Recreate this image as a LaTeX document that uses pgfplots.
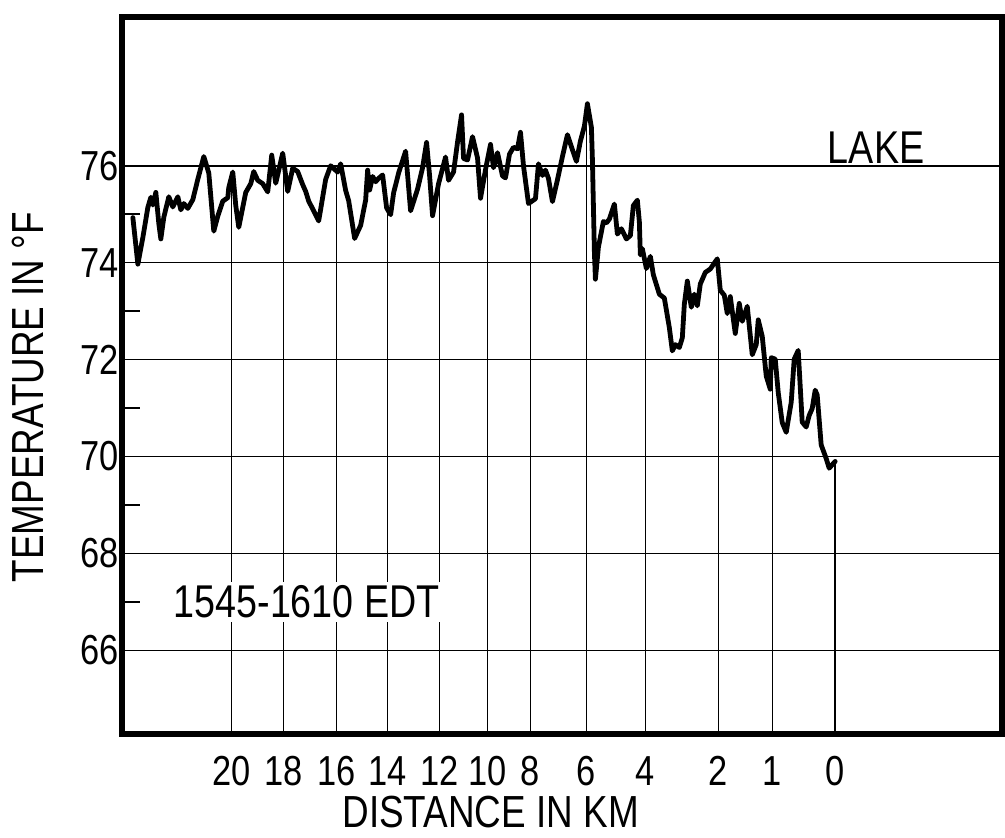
\documentclass[border=0pt]{standalone}
\usepackage{pgfplots}
\pgfplotsset{compat=1.18}
\usepackage{pgfplotstable}
\usepackage{fontspec}
\setmainfont{Liberation Sans}[FakeStretch=0.82]
\usetikzlibrary{calc}

\pgfplotstableread{
x T
133 74.93
138 73.97
143 74.52
148 75.14
151 75.35
153 75.19
156 75.45
159 74.80
161 74.49
164 74.94
169 75.36
173 75.15
178 75.36
181 75.09
184 75.22
188 75.12
193 75.30
198 75.72
204 76.19
209 75.85
214 74.65
218 74.96
223 75.27
228 75.34
229 75.55
233 75.87
236 75.18
239 74.73
246 75.45
251 75.63
254 75.88
258 75.70
263 75.63
268 75.46
272 76.22
276 75.64
283 76.26
288 75.47
293 75.95
298 75.88
303 75.61
306 75.47
309 75.27
314 75.07
319 74.86
326 75.72
331 76.00
338 75.87
341 76.04
346 75.49
349 75.28
355 74.50
361 74.77
366 75.29
368 75.91
370 75.50
373 75.78
376 75.67
379 75.74
383 75.81
387 75.13
391 74.99
394 75.44
399 75.85
406 76.30
411 75.07
418 75.52
423 75.96
427 76.48
430 75.80
433 74.97
439 75.63
446 76.18
449 75.70
454 75.87
458 76.49
462 77.05
464 76.15
468 76.12
473 76.60
478 76.16
481 75.33
486 75.92
491 76.44
494 75.96
498 76.27
503 75.79
506 75.75
510 76.24
514 76.38
518 76.35
521 76.69
524 76.00
529 75.22
536 75.32
539 76.04
543 75.80
546 75.91
549 75.74
553 75.26
558 75.71
563 76.19
568 76.64
573 76.33
577 76.09
581 76.51
585 76.82
588 77.28
592 76.79
593 76.13
595 74.21
596 73.66
599 74.32
604 74.85
607 74.82
610 74.90
615 75.21
618 74.59
622 74.70
627 74.49
631 74.56
634 75.18
638 75.29
640 74.84
641 74.16
643 74.29
647 73.88
651 74.13
654 73.75
660 73.35
665 73.27
670 72.66
673 72.18
676 72.31
680 72.25
683 72.45
685 73.14
688 73.62
692 73.08
695 73.35
698 73.11
701 73.56
706 73.80
711 73.87
718 74.08
721 73.43
725 73.33
728 72.95
731 73.30
736 72.54
740 73.16
743 72.79
748 73.10
753 72.10
757 72.31
759 72.82
763 72.48
767 71.66
771 71.39
772 72.04
776 72.01
779 71.32
783 70.70
787 70.50
792 71.12
795 72.01
799 72.19
803 70.71
807 70.61
810 70.85
813 70.99
816 71.37
818 71.27
822 70.24
827 69.96
830 69.76
836 69.90
}\curvetable

\pgfplotstableread{
x T
232 75.79
284 76.10
337 75.89
388 75.10
440 75.70
488 76.13
531 75.25
587 77.10
646 73.98
719 73.86
773 72.03
836 69.90
}\droptable

\begin{document}
\begin{tikzpicture}
\begin{axis}[
  scale only axis, width=440.5pt, height=359pt,
  xmin=122, xmax=1003, ymin=64.27, ymax=79.07,
  axis line style={line width=2.8pt, line cap=rect},
  xtick={232,284,337,388,440,488,531,587,646,719,773,836},
  xticklabels={20,18,16,14,12,10,8,6,4,2,1,0},
  ytick={66,68,...,76},
  minor ytick={67,69,...,75},
  major tick length=0pt, minor tick length=9pt,
  tick style={line width=0.8pt, black},
  tick pos=left, tick align=inside,
  ymajorgrids, major grid style={line width=0.8pt, black},
  /pgf/number format/assume math mode=true,
  ticklabel style={font=\fontsize{21}{21}\selectfont},
  xticklabel style={anchor=center, yshift=-18.5pt},
  yticklabel style={anchor=east, xshift=2pt},
  xlabel={DISTANCE IN KM}, ylabel={TEMPERATURE IN °F},
  label style={font=\fontsize{22.5}{23}\selectfont},
  xlabel style={at={(axis description cs:0.419,-0.108)}, anchor=center},
  ylabel style={at={(axis description cs:-0.1067,0.47)}, anchor=center, rotate=0},
]
\addplot[ycomb, line width=0.7pt, black] table[x=x,y=T]{\droptable};
\node[fill=white, inner sep=2pt, font=\fontsize{23}{23}\selectfont] at (axis cs:307,67.0) {1545-1610 EDT};
\addplot[line width=2.4pt, black, line join=round, line cap=round] table[x=x,y=T]{\curvetable};
\node[font=\fontsize{23}{23}\selectfont] at (axis cs:877,76.38) {LAKE};
\coordinate (sw) at (rel axis cs:0,0);
\coordinate (ne) at (rel axis cs:1,1);
\end{axis}
\pgfresetboundingbox
\path[use as bounding box] ($(sw)+(-61pt,-51.5pt)$) rectangle ($(ne)+(1.5pt,8.5pt)$);
\end{tikzpicture}
\end{document}
